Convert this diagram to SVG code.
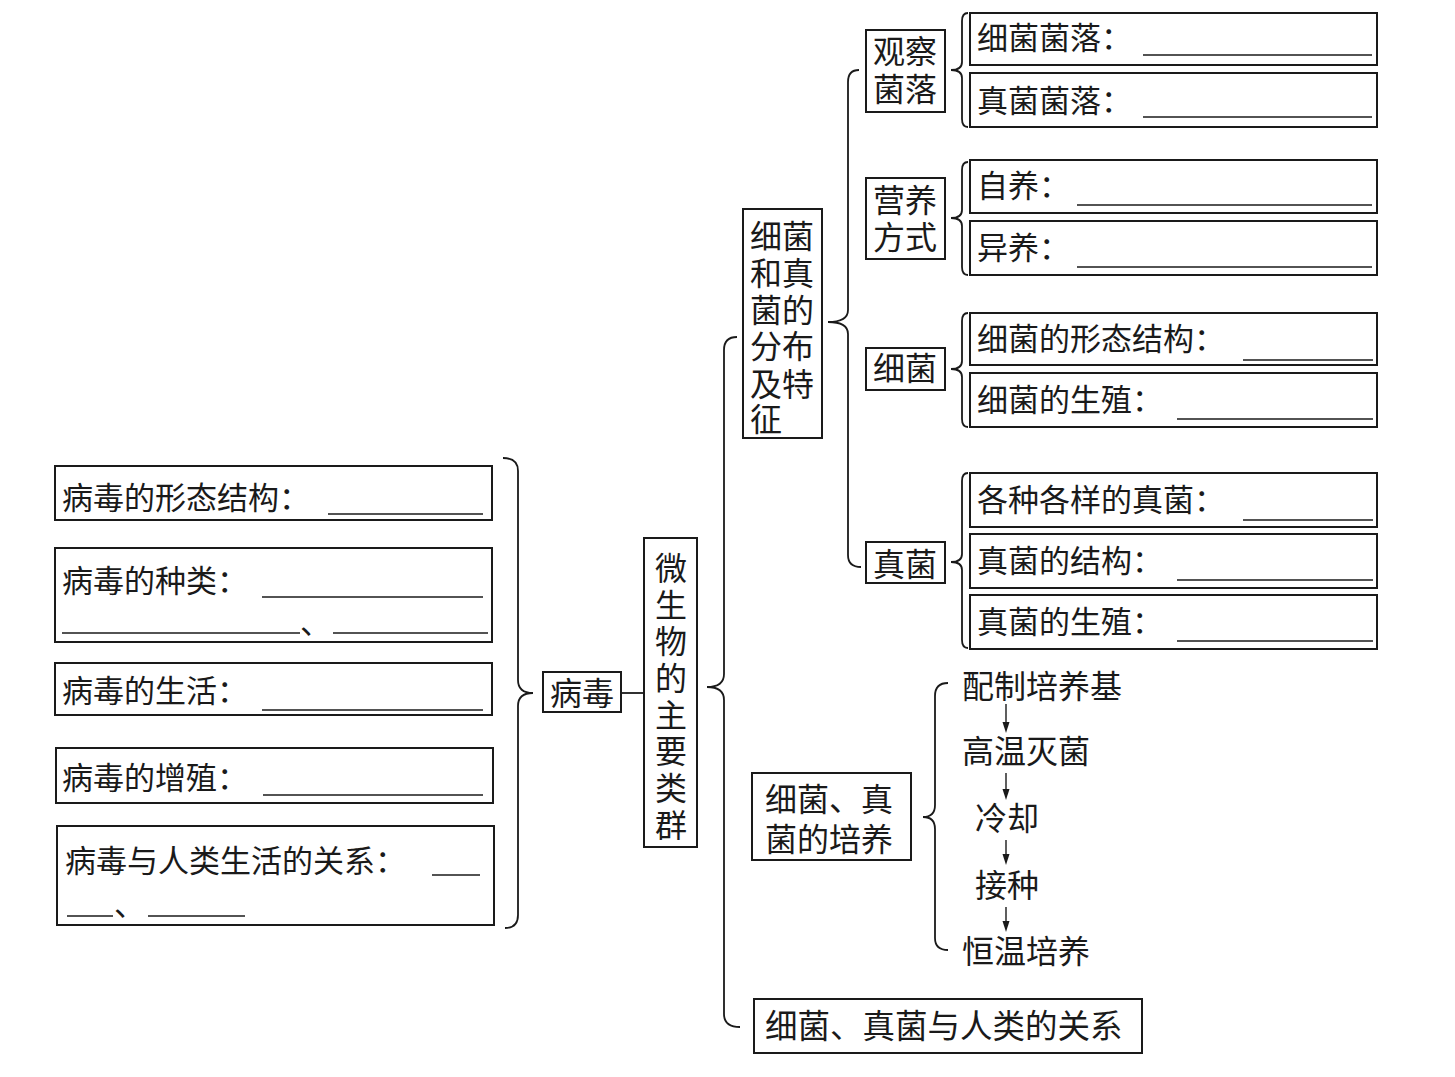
<svg xmlns="http://www.w3.org/2000/svg" width="1455" height="1077" viewBox="0 0 1455 1077">
<defs>
<style>
.bx{fill:none;stroke:#1a1a1a;stroke-width:2}
.br{fill:none;stroke:#1a1a1a;stroke-width:1.8}
.ul{stroke:#1a1a1a;stroke-width:1.4}
.t{font-family:"Noto Sans CJK SC","Noto Sans",sans-serif;font-size:31px;fill:#1a1a1a}
.f{font-family:"Noto Sans CJK SC","Noto Sans",sans-serif;font-size:32px;fill:#1a1a1a}
.v{font-family:"Noto Sans CJK SC","Noto Sans",sans-serif;font-size:32px;fill:#1a1a1a;text-anchor:middle}
</style>
</defs>
<rect width="1455" height="1077" fill="#ffffff"/>

<g id="connectors">
<path class="br" d="M503,458 Q518,458 518,471 L518,680 Q518,693 533,693 Q518,693 518,706 L518,915 Q518,928 505,928"/>
<line class="br" x1="621" y1="693" x2="645" y2="693"/>
<path class="br" d="M737,337 Q724,337 724,350 L724,674 Q724,687 707,687 Q724,687 724,700 L724,1014 Q724,1027 740,1027"/>
<path class="br" d="M859,70 Q848,70 848,82 L848,310 Q848,322 828,322 Q848,322 848,334 L848,555 Q848,567 861,567"/>
<path class="br" d="M968,13 Q962,13 962,21 L962,62 Q962,70 951,70 Q962,70 962,78 L962,119 Q962,127 968,127"/>
<path class="br" d="M968,162 Q962,162 962,170 L962,210 Q962,218 951,218 Q962,218 962,226 L962,267 Q962,275 968,275"/>
<path class="br" d="M968,313 Q962,313 962,321 L962,361 Q962,369 951,369 Q962,369 962,377 L962,419 Q962,427 968,427"/>
<path class="br" d="M968,473 Q962,473 962,481 L962,554 Q962,562 951,562 Q962,562 962,570 L962,640 Q962,648 968,648"/>
<path class="br" d="M948,683 Q935,683 935,696 L935,805 Q935,817 923,817 Q935,817 935,829 L935,938 Q935,950 948,950"/>
<g fill="#1a1a1a">
<line class="ul" x1="1006" y1="704" x2="1006" y2="724"/><path d="M1002.5,722 L1009.5,722 L1006,733 Z"/>
<line class="ul" x1="1006" y1="773" x2="1006" y2="791"/><path d="M1002.5,789 L1009.5,789 L1006,800 Z"/>
<line class="ul" x1="1006" y1="840" x2="1006" y2="856"/><path d="M1002.5,854 L1009.5,854 L1006,865 Z"/>
<line class="ul" x1="1006" y1="907" x2="1006" y2="923"/><path d="M1002.5,921 L1009.5,921 L1006,932 Z"/>
</g>
</g>

<g id="virus-shape">
<rect class="bx" x="55" y="466" width="437" height="54"/>
<text class="t" x="62" y="509">病毒的形态结构：</text>
<line class="ul" x1="328" y1="514" x2="483" y2="514"/>
</g>
<g id="virus-types">
<rect class="bx" x="55" y="548" width="437" height="94"/>
<text class="t" x="62" y="592">病毒的种类：</text>
<line class="ul" x1="262" y1="597" x2="483" y2="597"/>
<line class="ul" x1="62" y1="633" x2="300" y2="633"/>
<text class="t" x="300" y="634">、</text>
<line class="ul" x1="333" y1="633" x2="488" y2="633"/>
</g>
<g id="virus-life">
<rect class="bx" x="55" y="663" width="437" height="52"/>
<text class="t" x="62" y="702">病毒的生活：</text>
<line class="ul" x1="262" y1="710" x2="483" y2="710"/>
</g>
<g id="virus-reproduce">
<rect class="bx" x="56" y="748" width="437" height="55"/>
<text class="t" x="62" y="789">病毒的增殖：</text>
<line class="ul" x1="263" y1="795" x2="483" y2="795"/>
</g>
<g id="virus-human">
<rect class="bx" x="57" y="826" width="437" height="99"/>
<text class="t" x="65" y="872">病毒与人类生活的关系：</text>
<line class="ul" x1="432" y1="875" x2="480" y2="875"/>
<line class="ul" x1="67" y1="916" x2="113" y2="916"/>
<text class="t" x="114" y="916">、</text>
<line class="ul" x1="148" y1="916" x2="245" y2="916"/>
</g>

<g id="virus">
<rect class="bx" x="543" y="672" width="78" height="40"/>
<text class="f" x="550" y="705">病毒</text>
</g>
<g id="microbes">
<rect class="bx" x="644" y="538" width="53" height="309"/>
<text class="v"><tspan x="671" y="580">微</tspan><tspan x="671" y="617">生</tspan><tspan x="671" y="653">物</tspan><tspan x="671" y="690">的</tspan><tspan x="671" y="727">主</tspan><tspan x="671" y="763">要</tspan><tspan x="671" y="800">类</tspan><tspan x="671" y="837">群</tspan></text>
</g>

<g id="bf-distribution">
<rect class="bx" x="743" y="209" width="79" height="229"/>
<text class="f"><tspan x="750" y="248">细菌</tspan><tspan x="750" y="285">和真</tspan><tspan x="750" y="322">菌的</tspan><tspan x="750" y="358">分布</tspan><tspan x="750" y="396">及特</tspan><tspan x="750" y="431">征</tspan></text>
</g>

<g id="observe-colony">
<rect class="bx" x="866" y="30" width="79" height="82"/>
<text class="v"><tspan x="905" y="63">观察</tspan><tspan x="905" y="101">菌落</tspan></text>
</g>
<g id="bacteria-colony">
<rect class="bx" x="970" y="13" width="407" height="52"/>
<text class="t" x="977" y="49">细菌菌落：</text>
<line class="ul" x1="1143" y1="55" x2="1372" y2="55"/>
</g>
<g id="fungi-colony">
<rect class="bx" x="970" y="73" width="407" height="54"/>
<text class="t" x="977" y="112">真菌菌落：</text>
<line class="ul" x1="1143" y1="117" x2="1372" y2="117"/>
</g>

<g id="nutrition">
<rect class="bx" x="866" y="178" width="79" height="81"/>
<text class="v"><tspan x="905" y="212">营养</tspan><tspan x="905" y="249">方式</tspan></text>
</g>
<g id="autotroph">
<rect class="bx" x="970" y="160" width="407" height="53"/>
<text class="t" x="977" y="197">自养：</text>
<line class="ul" x1="1077" y1="205" x2="1372" y2="205"/>
</g>
<g id="heterotroph">
<rect class="bx" x="970" y="221" width="407" height="54"/>
<text class="t" x="977" y="259">异养：</text>
<line class="ul" x1="1077" y1="267" x2="1372" y2="267"/>
</g>

<g id="bacteria">
<rect class="bx" x="866" y="348" width="79" height="42"/>
<text class="v" x="905" y="380">细菌</text>
</g>
<g id="bacteria-structure">
<rect class="bx" x="970" y="313" width="407" height="52"/>
<text class="t" x="977" y="350">细菌的形态结构：</text>
<line class="ul" x1="1243" y1="360" x2="1373" y2="360"/>
</g>
<g id="bacteria-reproduce">
<rect class="bx" x="970" y="373" width="407" height="54"/>
<text class="t" x="977" y="411">细菌的生殖：</text>
<line class="ul" x1="1177" y1="419" x2="1373" y2="419"/>
</g>

<g id="fungi">
<rect class="bx" x="866" y="542" width="79" height="41"/>
<text class="v" x="905" y="576">真菌</text>
</g>
<g id="fungi-variety">
<rect class="bx" x="970" y="473" width="407" height="54"/>
<text class="t" x="977" y="511">各种各样的真菌：</text>
<line class="ul" x1="1243" y1="520" x2="1373" y2="520"/>
</g>
<g id="fungi-structure">
<rect class="bx" x="970" y="534" width="407" height="54"/>
<text class="t" x="977" y="572">真菌的结构：</text>
<line class="ul" x1="1177" y1="580" x2="1373" y2="580"/>
</g>
<g id="fungi-reproduce">
<rect class="bx" x="970" y="595" width="407" height="54"/>
<text class="t" x="977" y="633">真菌的生殖：</text>
<line class="ul" x1="1177" y1="641" x2="1373" y2="641"/>
</g>

<g id="culture">
<rect class="bx" x="752" y="773" width="159" height="87"/>
<text class="f"><tspan x="765" y="811">细菌、真</tspan><tspan x="765" y="851">菌的培养</tspan></text>
</g>
<g id="step-medium"><text class="f" x="962" y="698">配制培养基</text></g>
<g id="step-sterilize"><text class="f" x="962" y="763">高温灭菌</text></g>
<g id="step-cool"><text class="f" x="975" y="830">冷却</text></g>
<g id="step-inoculate"><text class="f" x="975" y="897">接种</text></g>
<g id="step-incubate"><text class="f" x="962" y="963">恒温培养</text></g>

<g id="bf-human">
<rect class="bx" x="754" y="999" width="388" height="54"/>
<text class="f" x="765" y="1038" style="font-size:32.5px">细菌、真菌与人类的关系</text>
</g>
</svg>
